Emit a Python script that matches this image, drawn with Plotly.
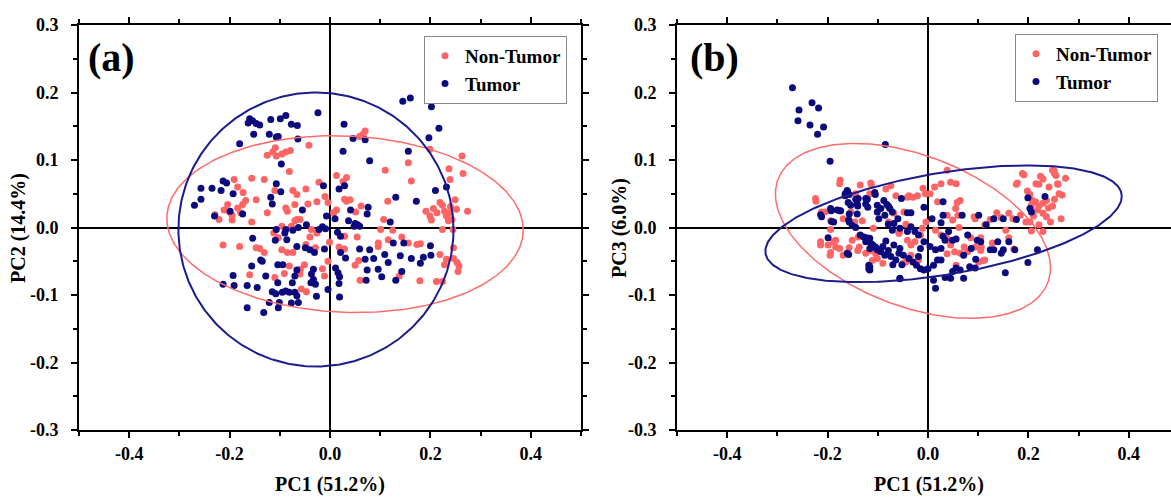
import numpy as np
import plotly.graph_objects as go

# ---------------- data ----------------
# Panel (a): PC1 vs PC2
a_nontumor = [
    (0.070,0.143),(0.066,0.138),(0.059,0.135),(-0.042,0.122),
    (-0.109,0.118),(-0.114,0.112),(-0.125,0.107),(-0.107,0.106),(-0.096,0.109),(-0.088,0.112),(-0.079,0.114),
    (-0.081,0.083),(0.110,0.085),(0.156,0.096),(0.199,0.116),(0.263,0.106),(0.265,0.080),(0.237,0.087),(0.239,0.071),(0.162,0.069),
    (0.013,0.077),(0.033,0.074),(0.026,0.068),(-0.022,0.067),(-0.010,0.046),(-0.048,0.057),(-0.074,0.055),(-0.066,0.049),
    (-0.110,0.055),(-0.131,0.071),(-0.156,0.073),(-0.173,0.052),(-0.191,0.071),(-0.184,0.060),
    (-0.174,0.034),(-0.184,0.029),(-0.178,0.022),(-0.204,0.034),(-0.211,0.026),(-0.200,0.023),(-0.229,0.019),(-0.221,0.012),
    (-0.195,0.018),(-0.195,0.011),(-0.168,0.040),(-0.147,0.041),(-0.156,0.008),(-0.125,0.022),(-0.088,0.029),(-0.085,0.024),
    (-0.070,0.034),(-0.044,0.035),(-0.026,0.038),(-0.004,0.037),
    (-0.066,0.012),(-0.070,0.010),(-0.060,0.012),(-0.096,0.002),(-0.077,0.002),
    (0.007,0.022),(0.013,0.026),(0.029,0.042),(0.033,0.039),(0.040,0.041),(0.051,0.023),(0.062,0.032),(0.115,0.039),(0.107,0.012),(0.101,-0.003),
    (0.191,0.024),(0.199,0.017),(0.206,0.028),(0.213,0.022),(0.219,0.037),(0.224,0.033),(0.228,0.024),(0.232,0.017),(0.238,0.022),
    (0.236,0.010),(0.224,-0.003),(0.243,0.012),(0.249,0.041),(0.252,0.027),(0.240,0.031),(0.274,0.024),(0.202,0.011),(0.245,-0.003),
    (0.219,-0.040),(0.232,-0.047),(0.246,-0.046),(0.253,-0.052),(0.257,-0.057),(0.255,-0.065),(0.246,-0.030),(0.228,-0.055),(0.212,-0.080),(0.224,-0.080),
    (0.180,-0.024),(0.156,-0.023),(0.173,-0.025),(0.125,-0.004),(0.143,-0.014),(0.116,-0.018),(0.096,-0.023),(0.096,-0.028),
    (0.138,-0.072),(0.179,-0.079),(0.060,-0.078),(0.050,-0.056),(0.057,-0.049),(0.054,-0.014),(0.029,-0.032),(0.029,-0.013),
    (0.018,-0.029),(-0.001,-0.022),(-0.004,-0.050),(-0.015,-0.061),(-0.011,-0.072),
    (-0.051,-0.055),(-0.059,-0.062),(-0.060,-0.069),(-0.047,-0.095),(-0.057,-0.091),(-0.081,-0.057),(-0.091,-0.068),(-0.110,-0.074),
    (-0.096,-0.033),(-0.085,-0.037),(-0.074,-0.037),(-0.112,-0.008),(-0.103,-0.015),(-0.140,-0.031),(-0.147,-0.030),(-0.131,-0.037),
    (-0.160,-0.070),(-0.180,-0.028),(-0.213,-0.026),
    (-0.037,-0.003),(-0.026,-0.008),(-0.040,-0.014),(-0.048,-0.025),(-0.029,-0.030),
]
a_tumor = [
    (0.145,0.187),(0.160,0.192),(0.202,0.179),(0.217,0.147),(0.197,0.133),(0.156,0.113),
    (-0.024,0.170),(0.028,0.153),(0.046,0.132),(0.070,0.130),(0.026,0.113),(0.079,0.099),
    (-0.160,0.161),(-0.154,0.158),(-0.147,0.154),(-0.140,0.152),(-0.163,0.155),(-0.118,0.160),(-0.099,0.161),(-0.088,0.166),
    (-0.077,0.153),(-0.065,0.151),(-0.152,0.138),(-0.121,0.138),(-0.107,0.134),(-0.103,0.135),(-0.064,0.131),(-0.180,0.124),(-0.097,0.094),
    (-0.213,0.069),(-0.206,0.066),(-0.257,0.058),(-0.235,0.058),(-0.217,0.055),(-0.193,0.050),(-0.257,0.042),(-0.270,0.033),
    (-0.230,0.017),(-0.199,0.024),(-0.174,0.020),
    (-0.107,0.065),(-0.118,0.045),(-0.115,0.035),(-0.098,0.053),(-0.055,0.026),(-0.013,0.062),(0.029,0.062),(0.018,0.057),
    (0.131,0.045),(0.172,0.039),(0.210,0.055),(0.232,0.060),
    (0.076,0.030),(0.074,0.020),(0.041,0.026),(0.037,0.010),(0.050,0.006),(0.055,0.004),(0.059,0.002),(0.048,0.002),(0.120,0.008),
    (0.010,0.013),(-0.007,0.017),(-0.009,-0.002),(-0.015,0.001),(-0.022,-0.003),(-0.047,0.004),(-0.063,0.000),(-0.074,-0.004),
    (-0.088,-0.003),(-0.107,-0.003),(-0.090,-0.008),
    (0.015,-0.007),(0.021,-0.013),(-0.154,-0.016),(-0.109,-0.019),(-0.086,-0.018),(-0.066,-0.028),(-0.049,-0.030),(-0.040,-0.033),
    (-0.031,-0.037),(-0.011,-0.032),(0.021,-0.037),(0.031,-0.045),(0.059,-0.032),(0.079,-0.033),(0.109,-0.040),(0.126,-0.023),
    (0.147,-0.023),(0.140,-0.042),(0.116,-0.052),(0.087,-0.046),(0.070,-0.047),(0.162,-0.046),(0.180,-0.053),(0.186,-0.044),
    (0.201,-0.041),(0.200,-0.027),
    (0.096,-0.062),(0.103,-0.073),(0.131,-0.078),(0.074,-0.063),(0.072,-0.078),(0.143,-0.065),(0.011,-0.060),(0.016,-0.067),
    (0.019,-0.073),(0.018,-0.083),(-0.004,-0.092),(0.019,-0.103),(-0.027,-0.102),
    (-0.033,-0.062),(-0.037,-0.069),(-0.033,-0.077),(-0.029,-0.084),(-0.038,-0.082),
    (-0.066,-0.063),(-0.070,-0.072),(-0.075,-0.082),(-0.070,-0.096),(-0.066,-0.101),(-0.063,-0.111),
    (-0.094,-0.055),(-0.104,-0.055),(-0.128,-0.072),(-0.104,-0.082),(-0.095,-0.096),(-0.088,-0.094),(-0.081,-0.096),
    (-0.108,-0.098),(-0.115,-0.095),(-0.121,-0.111),(-0.101,-0.111),(-0.103,-0.119),(-0.077,-0.112),
    (-0.145,-0.089),(-0.165,-0.086),(-0.132,-0.126),(-0.165,-0.119),(-0.191,-0.086),(-0.193,-0.071),(-0.213,-0.084),
    (-0.156,-0.057),(-0.138,-0.048),(-0.135,-0.050),
]

# Panel (b): PC1 vs PC3
b_nontumor = [
    (0.176,0.064),(0.191,0.078),(0.221,0.064),(0.203,0.049),(0.229,0.072),(0.248,0.085),(0.252,0.080),(0.255,0.077),
    (0.274,0.073),(0.259,0.064),(0.267,0.048),(0.252,0.042),(0.236,0.040),(0.229,0.036),(0.214,0.038),(0.206,0.033),
    (0.221,0.032),(0.240,0.029),(0.248,0.032),(0.218,0.026),(0.229,0.021),(0.236,0.016),(0.210,0.017),(0.244,0.008),
    (0.265,0.013),(0.203,0.008),(0.221,0.004),(0.229,-0.006),(0.206,-0.005),(0.195,0.008),(0.184,0.018),(0.161,0.021),
    (0.137,0.022),(0.124,0.012),(0.113,0.004),(0.094,0.013),
    (0.038,0.085),(0.026,0.065),(0.056,0.065),(-0.010,0.058),(-0.030,0.045),(-0.041,0.045),(0.004,0.050),
    (-0.176,0.065),(-0.223,0.039),(-0.212,0.023),(-0.135,0.063),(-0.113,0.064),(-0.116,0.050),(-0.154,0.023),(-0.146,0.008),
    (-0.169,0.013),(-0.214,-0.021),(-0.214,-0.026),(-0.199,-0.026),(-0.188,-0.021),(-0.184,-0.029),(-0.176,-0.031),
    (-0.195,-0.041),(-0.169,-0.041),(-0.139,-0.014),(-0.140,-0.034),(-0.124,-0.038),(-0.113,-0.034),(-0.101,-0.046),
    (-0.090,-0.053),(-0.109,-0.001),(-0.079,0.008),(-0.068,0.021),(-0.056,-0.006),(-0.041,-0.019),(-0.034,-0.026),
    (-0.026,-0.021),(-0.015,-0.011),(-0.011,-0.001),(-0.004,0.008),(0.019,0.038),(0.038,0.018),(0.049,0.011),(0.060,0.018),
    (0.064,0.040),(0.015,-0.004),(0.026,-0.011),(0.038,-0.016),(0.045,-0.026),(0.053,-0.036),(0.064,-0.038),(0.079,-0.036),
    (0.094,-0.029),(0.105,-0.034),(0.113,-0.048),(0.056,-0.056),(0.101,-0.051),(-0.034,-0.041),(-0.019,-0.048),(-0.049,-0.053),
    (-0.175,0.070),(-0.114,0.066),(-0.224,0.043),(-0.205,0.023),(-0.194,0.010),(-0.184,-0.019),(-0.194,-0.003),(-0.194,-0.037),
    (-0.157,-0.030),(-0.151,-0.019),(-0.134,-0.012),(-0.137,-0.029),(-0.161,-0.038),(-0.111,-0.049),(-0.104,-0.039),
    (-0.084,0.057),(-0.074,0.062),(-0.144,0.050),(-0.157,0.010),(-0.131,0.010),(-0.064,0.047),(-0.048,0.023),(-0.044,0.005),
    (-0.058,-0.009),(-0.044,-0.051),
    (0.013,0.060),(0.045,0.067),(-0.005,0.050),(-0.038,0.047),(-0.021,0.047),(0.058,0.037),(0.055,0.028),(0.092,0.016),
    (0.062,0.000),(0.085,-0.015),(0.106,-0.029),(0.105,-0.015),(0.072,-0.029),(0.038,-0.039),(0.110,-0.049),(0.155,-0.004),
    (0.145,0.015),(0.169,0.013),(0.161,-0.015),(0.171,-0.032),(0.128,-0.023),(0.178,0.066),(0.188,0.080),(0.198,0.054),
    (0.215,0.065),(0.224,0.076),(0.241,0.060),(0.251,0.084),(0.258,0.065),(0.261,0.050),(0.208,0.040),
]
b_tumor = [
    (-0.270,0.207),(-0.257,0.174),(-0.259,0.158),(-0.231,0.185),(-0.218,0.177),(-0.235,0.152),(-0.208,0.149),(-0.220,0.138),
    (-0.195,0.098),(-0.085,0.123),
    (-0.160,0.053),(-0.157,0.049),(-0.165,0.047),(-0.105,0.049),(-0.053,0.043),(0.030,0.038),(0.199,0.044),(0.233,0.046),
    (0.203,0.028),(0.206,0.023),(0.176,0.012),(0.150,0.013),(0.131,0.013),(0.101,0.018),(0.068,0.018),(0.116,0.004),
    (0.030,0.018),(0.026,0.007),(0.008,0.013),(-0.008,0.030),(-0.034,0.022),(-0.041,0.022),(-0.212,0.016),(-0.193,0.025),
    (-0.176,0.025),(-0.188,0.008),(-0.199,-0.015),(-0.158,0.011),(-0.154,0.033),(-0.140,0.032),(-0.139,0.043),(-0.124,0.043),
    (-0.120,0.030),(-0.101,0.033),(-0.094,0.028),(-0.101,0.023),(-0.098,0.013),(-0.079,0.032),(-0.086,0.018),(-0.071,0.023),
    (-0.060,0.013),(-0.068,0.006),(-0.056,-0.001),(-0.079,0.005),(-0.071,-0.004),
    (-0.041,-0.006),(-0.034,0.001),(-0.026,-0.006),(-0.019,-0.011),
    (-0.135,-0.011),(-0.128,-0.014),(-0.116,-0.016),(-0.124,-0.021),(-0.113,-0.024),(-0.105,-0.029),(-0.116,-0.031),
    (-0.101,-0.033),(-0.094,-0.036),(-0.086,-0.041),(-0.079,-0.034),(-0.068,-0.026),(-0.056,-0.031),(-0.049,-0.041),
    (-0.038,-0.046),(-0.030,-0.051),(-0.023,-0.056),(-0.015,-0.061),(-0.008,-0.063),(0.000,-0.061),(0.011,-0.056),
    (0.019,-0.048),(0.026,-0.048),(0.015,-0.033),(0.004,-0.028),(-0.008,-0.021),(-0.015,-0.031),(-0.019,-0.043),
    (-0.116,-0.058),(-0.116,-0.063),(-0.158,-0.040),(-0.056,-0.076),(0.011,-0.078),(0.015,-0.090),
    (0.034,-0.074),(0.045,-0.075),(0.049,-0.065),(0.056,-0.060),(0.064,-0.063),(0.071,-0.075),
    (0.026,-0.031),(0.034,-0.019),(0.049,-0.019),(0.056,-0.017),
    (0.079,-0.011),(0.086,-0.031),(0.098,-0.019),(0.105,-0.021),(0.124,-0.033),(0.131,-0.033),(0.139,-0.021),(0.150,-0.033),
    (0.161,-0.021),(0.173,-0.033),(0.146,-0.038),(0.095,-0.047),(0.071,-0.041),(0.083,-0.058),(0.094,-0.060),
    (0.199,-0.052),(0.218,-0.033),(0.154,-0.067),(0.030,-0.013),(0.041,-0.006),
    (-0.161,0.055),(-0.165,0.050),(-0.159,0.037),(-0.144,0.042),(-0.141,0.035),(-0.124,0.035),(-0.106,0.052),(-0.121,0.042),
    (-0.214,0.019),(-0.194,0.028),(-0.181,0.026),(-0.174,0.025),(-0.192,0.009),(-0.157,0.020),(-0.141,0.020),
    (-0.157,0.008),(-0.151,0.003),(-0.144,0.000),(-0.088,0.040),(-0.082,0.034),(-0.076,0.028),
    (-0.123,-0.015),(-0.118,-0.020),(-0.110,-0.026),(-0.104,-0.030),(-0.096,-0.034),(-0.090,-0.028),(-0.084,-0.020),
    (-0.118,-0.056),(-0.118,-0.061),(-0.074,-0.043),(-0.064,-0.048),(-0.058,-0.038),(-0.070,-0.055),(-0.052,-0.055),
    (-0.056,-0.075),(-0.161,-0.038),
]

# confidence ellipses: centre x, centre y, half-width, half-height, correlation
ellipse_a_nontumor = (0.030, 0.005, 0.355, 0.131, -0.065)
ellipse_a_tumor = (-0.028, -0.003, 0.274, 0.203, 0.0)
ellipse_b_nontumor = (-0.030, -0.005, 0.274, 0.1295, -0.423)
ellipse_b_tumor = (0.031, 0.0055, 0.355, 0.0865, 0.470)

x_tickvals = [-0.4, -0.2, 0.0, 0.2, 0.4]
x_ticktext = ["-0.4", "-0.2", "0.0", "0.2", "0.4"]
x_minorvals = [-0.5, -0.3, -0.1, 0.1, 0.3, 0.5]
y_tickvals = [-0.3, -0.2, -0.1, 0.0, 0.1, 0.2, 0.3]
y_ticktext = ["-0.3", "-0.2", "-0.1", "0.0", "0.1", "0.2", "0.3"]
y_minorvals = [-0.25, -0.15, -0.05, 0.05, 0.15, 0.25]

series_names = ["Non-Tumor", "Tumor"]
# ------------------------------------------------------------------

RED = "#FF6464"
NAVY = "#0B0B7E"
RED_LINE = "#FF6B6B"
NAVY_LINE = "#1C1C8C"
FONT = "Liberation Serif"

W, H = 1171, 497


def ellipse_xy(p):
    cx, cy, sx, sy, rho = p
    t = np.linspace(0, 2 * np.pi, 361)
    x = cx + sx * np.cos(t)
    y = cy + sy * (rho * np.cos(t) + np.sqrt(1 - rho ** 2) * np.sin(t))
    return x, y


fig = go.Figure()

panels = [
    ("x", "y", "legend", a_nontumor, a_tumor, ellipse_a_nontumor, ellipse_a_tumor),
    ("x2", "y2", "legend2", b_nontumor, b_tumor, ellipse_b_nontumor, ellipse_b_tumor),
]
for xa, ya, lg, nt, tu, e_nt, e_tu in panels:
    for pts, name, col in [(nt, series_names[0], RED), (tu, series_names[1], NAVY)]:
        xs, ys = zip(*pts)
        fig.add_trace(go.Scatter(
            x=xs, y=ys, mode="markers", name=name, xaxis=xa, yaxis=ya, legend=lg,
            marker=dict(color=col, size=7, line=dict(width=0)),
        ))
    for e, col, w in [(e_nt, RED_LINE, 1.5), (e_tu, NAVY_LINE, 2)]:
        ex, ey = ellipse_xy(e)
        fig.add_trace(go.Scatter(
            x=ex, y=ey, mode="lines", xaxis=xa, yaxis=ya, showlegend=False,
            line=dict(color=col, width=w), hoverinfo="skip",
        ))

ydom = [1 - 430 / H, 1 - 25 / H]
tickfont = dict(family=FONT, size=18, color="black", weight="bold")


def xaxis_cfg(domain, rng, mirror, anchor):
    return dict(
        domain=domain, range=rng, anchor=anchor, tickvals=x_tickvals, ticktext=x_ticktext,
        ticks="outside", ticklen=6, tickwidth=1.5, tickcolor="black",
        minor=dict(tickvals=x_minorvals, ticks="outside", ticklen=4, tickwidth=1.5, tickcolor="black"),
        showline=True, linecolor="black", linewidth=2, mirror=mirror,
        zeroline=True, zerolinecolor="black", zerolinewidth=1.5,
        showgrid=False, tickfont=tickfont, automargin=False, ticklabelstandoff=0,
    )


def yaxis_cfg(anchor, mirror):
    return dict(
        domain=ydom, range=[-0.3, 0.3], anchor=anchor, tickvals=y_tickvals, ticktext=y_ticktext,
        ticks="outside", ticklen=6, tickwidth=1.5, tickcolor="black",
        minor=dict(tickvals=y_minorvals, ticks="outside", ticklen=4, tickwidth=1.5, tickcolor="black"),
        showline=True, linecolor="black", linewidth=2, mirror=mirror,
        zeroline=True, zerolinecolor="black", zerolinewidth=1.5,
        showgrid=False, tickfont=tickfont, automargin=False, ticklabelstandoff=9,
    )


b_left = 677 / W
b_right_val = -0.5 + (W - 677) / 502.0
legend_font = dict(family=FONT, size=19, color="black", weight="bold")

fig.update_layout(
    width=W, height=H,
    margin=dict(l=0, r=0, t=0, b=0),
    paper_bgcolor="white", plot_bgcolor="white",
    showlegend=True,
    xaxis=xaxis_cfg([79 / W, 581 / W], [-0.5, 0.5], "ticks", "y"),
    yaxis=yaxis_cfg("x", "ticks"),
    xaxis2=xaxis_cfg([b_left, 1.0], [-0.5, b_right_val], "ticks", "y2"),
    yaxis2=yaxis_cfg("x2", False),
    legend=dict(
        x=424 / W, y=1 - 36 / H, xanchor="left", yanchor="top",
        bordercolor="#888888", borderwidth=1, bgcolor="white",
        font=legend_font, itemsizing="trace", tracegroupgap=0,
    ),
    legend2=dict(
        x=1015 / W, y=1 - 34 / H, xanchor="left", yanchor="top",
        bordercolor="#888888", borderwidth=1, bgcolor="white",
        font=legend_font, itemsizing="trace", tracegroupgap=0,
    ),
)

title_font = dict(family=FONT, size=20, color="black", weight="bold")
annotations = [
    dict(text="PC1 (51.2%)", x=330 / W, y=1 - 484 / H, xref="paper", yref="paper",
         showarrow=False, font=title_font, xanchor="center", yanchor="middle"),
    dict(text="PC1 (51.2%)", x=929 / W, y=1 - 484 / H, xref="paper", yref="paper",
         showarrow=False, font=title_font, xanchor="center", yanchor="middle"),
    dict(text="PC2 (14.4%)", x=18 / W, y=1 - 228 / H, xref="paper", yref="paper",
         showarrow=False, font=title_font, textangle=-90, xanchor="center", yanchor="middle"),
    dict(text="PC3 (6.0%)", x=619 / W, y=1 - 228 / H, xref="paper", yref="paper",
         showarrow=False, font=title_font, textangle=-90, xanchor="center", yanchor="middle"),
    dict(text="(a)", x=112 / W, y=1 - 58 / H, xref="paper", yref="paper",
         showarrow=False, font=dict(family=FONT, size=40, color="black", weight="bold"),
         xanchor="center", yanchor="middle"),
    dict(text="(b)", x=714 / W, y=1 - 58 / H, xref="paper", yref="paper",
         showarrow=False, font=dict(family=FONT, size=40, color="black", weight="bold"),
         xanchor="center", yanchor="middle"),
]
fig.update_layout(annotations=annotations)

fig.write_html(
    "out.html",
    config={"displayModeBar": False},
    post_script="document.body.style.margin='0';document.body.style.padding='0';"
                "document.documentElement.style.overflow='hidden';",
)
